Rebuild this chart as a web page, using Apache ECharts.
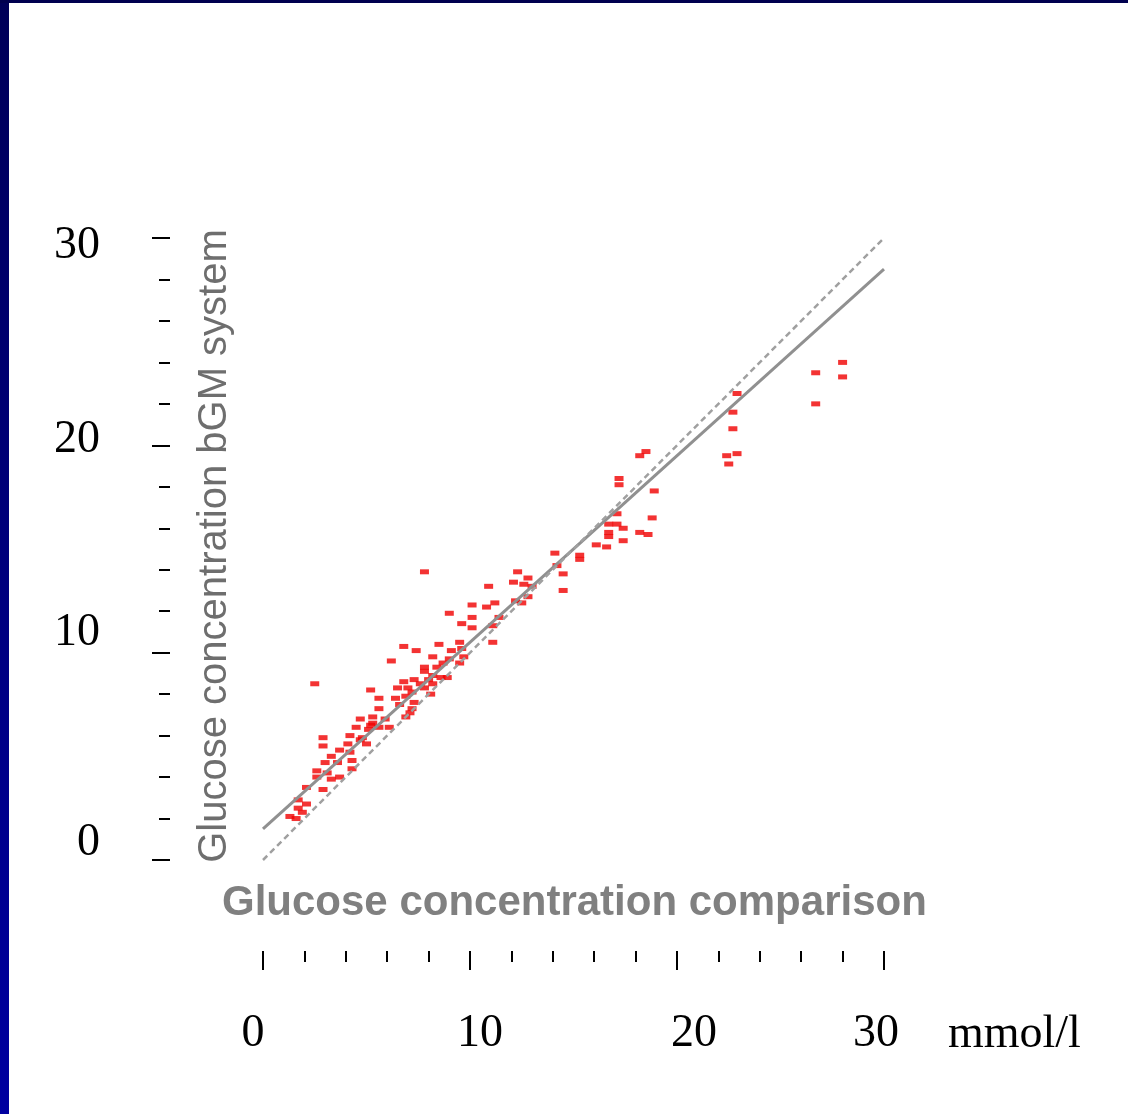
<!DOCTYPE html>
<html>
<head>
<meta charset="utf-8">
<script src="https://cdn.jsdelivr.net/npm/echarts@6/dist/echarts.min.js"></script>
<style>
html,body{margin:0;padding:0;background:#fff;}
#chart{width:1128px;height:1114px;}
</style>
</head>
<body>
<div id="chart"></div>
<script>
// ---- data ----
const xTicks = [0, 10, 20, 30];
const yTicks = [0, 10, 20, 30];
const xUnit = 'mmol/l';
const chartTitle = 'Glucose concentration comparison';
const yTitle = 'Glucose concentration bGM system';

// comparison value (x) vs bGM system value (y), mmol/l
const measurements = [
  [26.7,23.5],[28.0,24.0],[28.0,23.3],[26.7,22.0],[22.9,22.5],[22.7,21.6],[22.7,20.8],[22.9,19.6],[22.4,19.5],[22.5,19.1],
  [18.5,19.7],[18.2,19.5],[17.2,18.4],[17.2,18.1],[18.9,17.8],[17.1,16.7],[18.8,16.5],[16.7,16.2],[17.1,16.2],[17.4,16.0],
  [16.7,15.8],[16.7,15.6],[18.2,15.8],[18.6,15.7],[17.4,15.4],[16.1,15.2],[16.6,15.1],[14.1,14.8],[15.3,14.7],[15.3,14.5],
  [14.2,14.2],[14.5,13.8],[14.5,13.0],[12.3,13.9],[12.8,13.6],[12.1,13.4],[12.6,13.3],[13.0,13.2],[10.9,13.2],[12.8,12.7],
  [12.2,12.5],[12.5,12.4],[11.2,12.4],[10.8,12.2],[10.1,12.3],[9.0,11.9],[11.4,11.7],[10.1,11.7],[9.6,11.4],[11.1,11.3],
  [10.1,11.2],[7.8,13.9],
  [11.1,10.5],[9.5,10.5],[9.6,10.2],[9.1,10.1],[8.5,10.4],[6.8,10.3],[7.4,10.1],[8.2,9.8],[9.7,9.8],[9.0,9.7],
  [8.7,9.5],[6.2,9.6],[7.8,9.3],[8.4,9.3],[9.5,9.5],[7.3,8.7],[7.8,9.1],[8.2,8.9],[8.0,8.7],[8.6,8.8],
  [8.9,8.8],[7.6,8.5],[8.2,8.5],[6.8,8.6],[7.0,8.3],[6.5,8.3],[7.8,8.3],[8.1,8.0],[7.2,8.1],[6.9,7.9],
  [5.2,8.2],[5.6,7.8],[6.4,7.8],[7.3,7.6],[6.6,7.5],[7.2,7.3],[5.6,7.3],[5.3,6.9],[5.9,6.8],[6.9,6.9],
  [7.1,7.1],[4.7,6.8],[5.3,6.6],[6.1,6.4],[4.5,6.4],[5.1,6.3],[5.6,6.4],[4.2,6.0],[4.8,5.9],
  [2.9,5.9],[2.9,5.5],[5.2,6.5],[4.1,5.6],[4.7,5.8],[5.0,5.6],[3.7,5.3],[4.2,5.2],[3.3,5.0],[3.6,4.7],
  [3.0,4.7],[4.3,4.8],[2.6,4.3],[4.3,4.4],[3.1,4.2],[2.6,4.0],[3.3,3.9],[3.7,4.0],[2.1,3.5],[2.9,3.4],
  [1.7,2.9],[2.1,2.7],[1.7,2.5],[1.9,2.3],[1.3,2.1],[1.6,2.0],[2.5,8.5]
];
const identityLine = [[0, 0], [30, 30]];
const regressionLine = [[0, 1.5], [30, 28.5]];

// ---- per-label nudges (style only) ----
const yLabelPad = {0: [0,0,34,0], 10: [0,0,40,0], 20: [0,0,10,0], 30: [16,0,0,0]};
const xLabelPad = {0: [0,20,0,0], 10: [0,0,0,20], 20: [0,0,0,34], 30: [0,16,0,0]};

const serif = '"Liberation Serif","Times New Roman",serif';
const sans = '"Liberation Sans",Arial,sans-serif';

function richFor(vals, pads) {
  const r = {};
  vals.forEach(v => {
    r['v' + v] = {fontFamily: serif, fontSize: 46, color: '#000', padding: pads[v]};
  });
  return r;
}

const chart = echarts.init(document.getElementById('chart'), null, {renderer: 'canvas'});
chart.setOption({
  animation: false,
  backgroundColor: '#ffffff',
  grid: {left: 263, right: 244, top: 238, bottom: 254, outerBoundsMode: 'none'},
  title: [
    {text: chartTitle, left: 222, top: 882, padding: 0,
     textStyle: {fontFamily: sans, fontSize: 42, fontWeight: 'bold', color: '#808080'}},
    {text: xUnit, left: 948, top: 1012, padding: 0,
     textStyle: {fontFamily: serif, fontSize: 46, fontWeight: 'normal', color: '#000'}}
  ],
  xAxis: {
    type: 'value', min: xTicks[0], max: xTicks[xTicks.length - 1], interval: 10,
    offset: 91,
    axisLine: {show: false, onZero: false},
    axisTick: {show: true, length: 19, lineStyle: {color: '#000', width: 2}},
    minorTick: {show: true, splitNumber: 5, length: 11, lineStyle: {color: '#000', width: 2}},
    splitLine: {show: false},
    axisLabel: {
      margin: 60,
      formatter: v => '{v' + v + '|' + v + '}',
      rich: richFor(xTicks, xLabelPad)
    }
  },
  yAxis: {
    type: 'value', min: yTicks[0], max: yTicks[yTicks.length - 1], interval: 10,
    offset: 93,
    axisLine: {show: false, onZero: false},
    axisTick: {show: true, length: 18, lineStyle: {color: '#000', width: 2}},
    minorTick: {show: true, splitNumber: 5, length: 11, lineStyle: {color: '#000', width: 2}},
    splitLine: {show: false},
    axisLabel: {
      margin: 70,
      formatter: v => '{v' + v + '|' + v + '}',
      rich: richFor(yTicks, yLabelPad)
    }
  },
  series: [
    {
      type: 'scatter', data: measurements, symbol: 'rect', symbolSize: [9, 5],
      itemStyle: {color: '#f00000'}, z: 2
    },
    {
      type: 'line', data: regressionLine, showSymbol: false, symbol: 'none',
      lineStyle: {color: '#909090', width: 3}, z: 3
    },
    {
      type: 'line', data: identityLine, showSymbol: false, symbol: 'none',
      lineStyle: {color: '#a0a0a0', width: 2.5, type: [6, 4]}, z: 3
    }
  ],
  graphic: [
    {type: 'rect', shape: {x: 0, y: 0, width: 9, height: 1114},
     style: {fill: new echarts.graphic.LinearGradient(0, 0, 0, 1, [
       {offset: 0, color: '#000058'}, {offset: 1, color: '#0000a0'}])}, z: 10},
    {type: 'rect', shape: {x: 0, y: 0, width: 1128, height: 3}, style: {fill: '#00004f'}, z: 10},
    {type: 'text', x: 215, y: 546, rotation: Math.PI / 2,
     style: {text: yTitle, fontFamily: sans, fontSize: 40, fill: '#6e6e6e',
             align: 'center', verticalAlign: 'middle'}}
  ]
});
</script>
</body>
</html>
